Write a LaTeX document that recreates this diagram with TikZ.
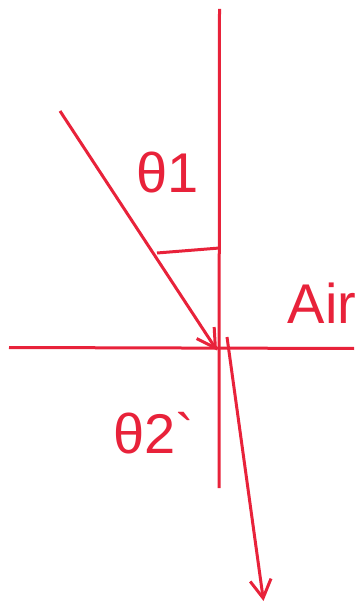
\documentclass[tikz,border=0pt]{standalone}
\usepackage{fontspec}
\setmainfont{Liberation Sans}[Ligatures=TeXOff]
\usetikzlibrary{arrows.meta}
\definecolor{raycol}{RGB}{232,34,58}
\begin{document}
\begin{tikzpicture}[x=0.5pt,y=-0.5pt,line width=1.5pt,color=raycol,
        ray/.style={-{Straight Barb[angle=60:10.5pt]}},
        lbl/.style={font=\fontsize{28}{30}\selectfont,inner sep=0pt}]
        \useasboundingbox (0,0) rectangle (354,603);
        % normal and surface
        \coordinate (ntop) at (219.5,9);
        \coordinate (nbot) at (219,488);
        \coordinate (sleft) at (9,347.5);
        \coordinate (sright) at (354,348.5);
        \draw (ntop)--(nbot);
        \draw (sleft)--(sright);
        % rays
        \coordinate (inc) at (60,111);
        \coordinate (hit) at (217,350.5);
        \coordinate (rstart) at (227,337);
        \coordinate (rend) at (263.5,601);
        \draw[ray] (inc)--(hit);
        \draw[ray] (rstart)--(rend);
        % angle mark
        \coordinate (amark) at (157,253);
        \coordinate (anorm) at (219.5,248);
        \draw (amark)--(anorm);
        % labels
        \node[lbl] (th1) at (168,173) {θ1};
        \node[lbl] (th2) at (154,433) {θ2`};
        \node[lbl] (air) at (322,303) {Air};
\end{tikzpicture}
\end{document}
